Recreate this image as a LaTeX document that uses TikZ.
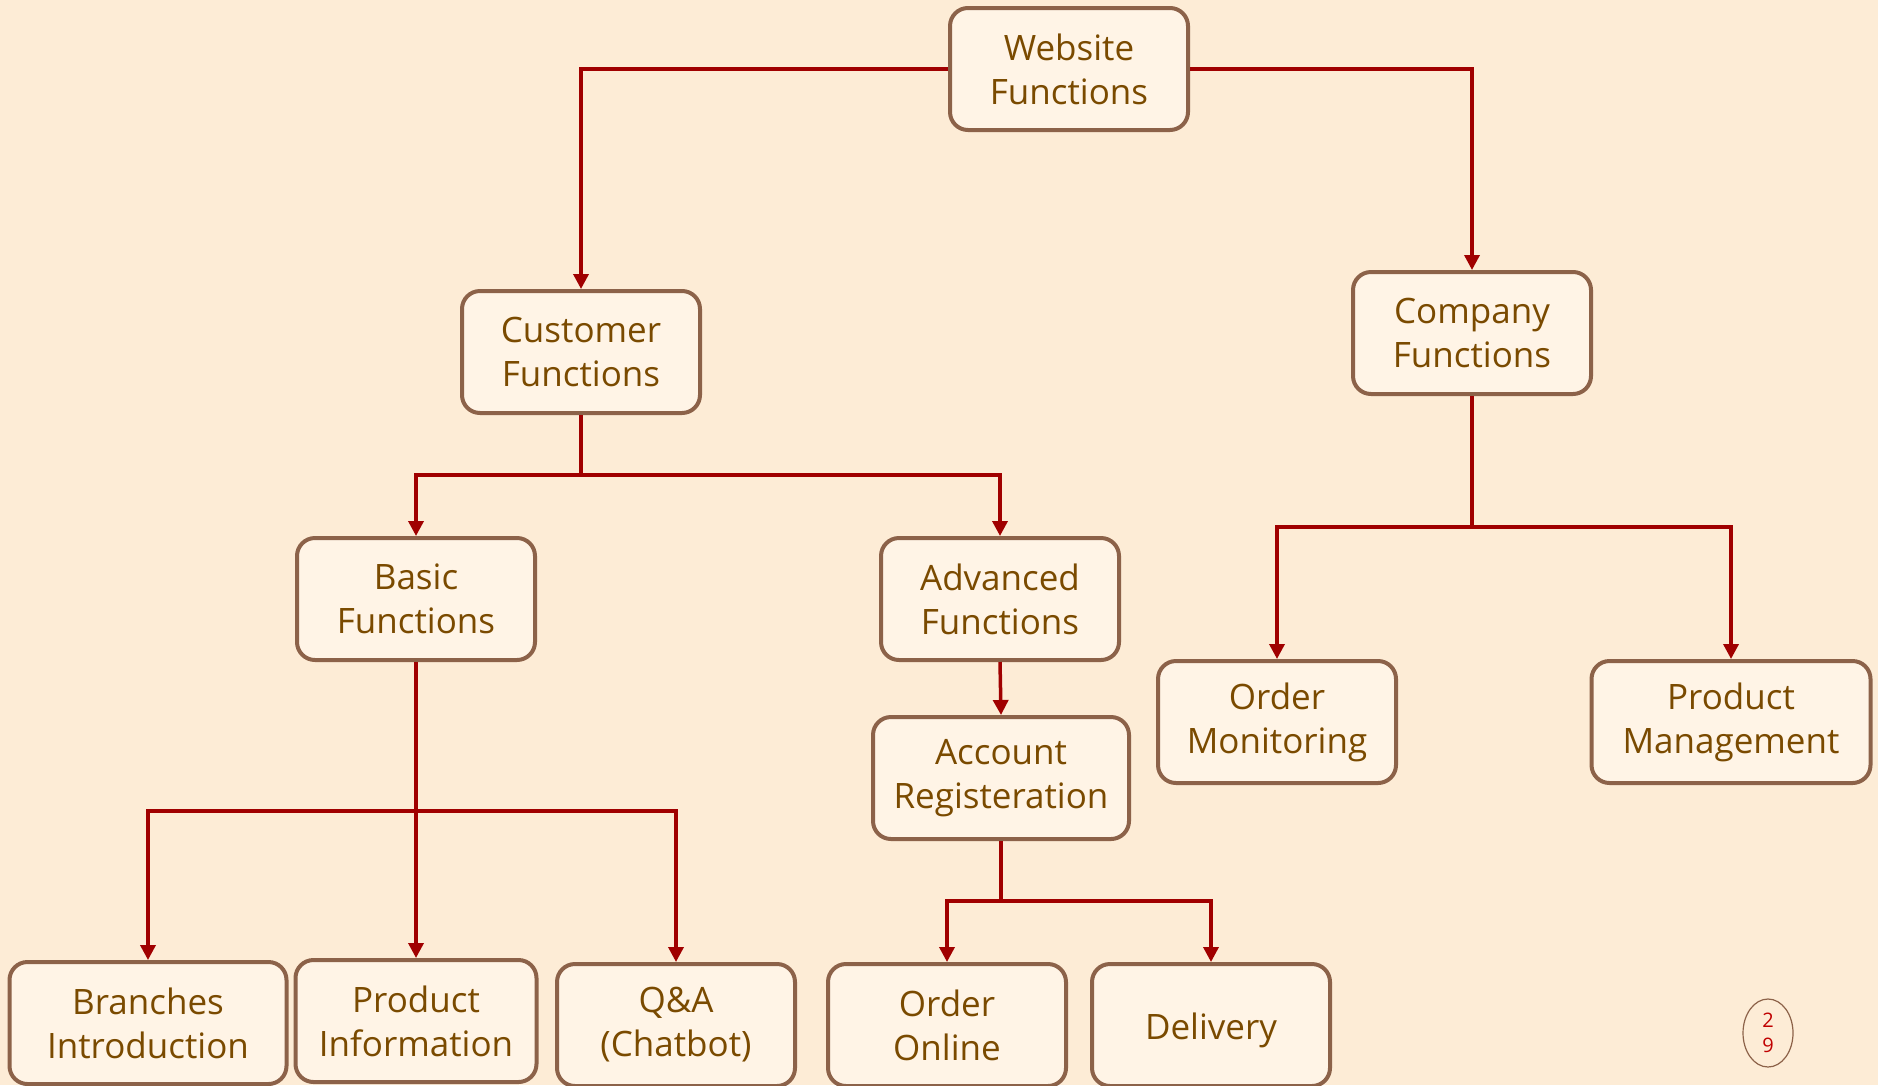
\documentclass[tikz,border=0pt]{standalone}
\usepackage{fontspec}
\setmainfont{Open Sans}
\usetikzlibrary{arrows.meta,shapes.geometric}
\definecolor{bg}{HTML}{FDECD6}
\definecolor{boxfill}{HTML}{FFF4E6}
\definecolor{boxline}{HTML}{8C6249}
\definecolor{txt}{HTML}{7A4A00}
\definecolor{wire}{HTML}{A00000}
\definecolor{pgred}{HTML}{C00000}
\begin{document}
\begin{tikzpicture}[x=1pt,y=-1pt,
  box/.style={draw=boxline, line width=4pt, fill=boxfill, rounded corners=18pt,
    minimum width=238pt, minimum height=122pt, align=center, text=txt,
    font=\fontsize{35}{44}\selectfont, inner sep=0pt},
  link/.style={draw=wire, line width=3.5pt, -{Triangle[width=15pt,length=15pt]}},
  plain/.style={draw=wire, line width=3.5pt}]
\fill[bg] (0,0) rectangle (1878,1085);
\useasboundingbox (0,0) rectangle (1878,1085);

\node[box] (web) at (1069,69) {Website\\Functions};
\node[box] (cust) at (581,352) {Customer\\Functions};
\node[box] (comp) at (1472,333) {Company\\Functions};
\node[box] (basic) at (416,599) {Basic\\Functions};
\node[box] (adv) at (1000,599) {Advanced\\Functions};
\node[box, minimum width=256pt] (acct) at (1001,778) {Account\\Registeration};
\node[box] (omon) at (1277,722) {Order\\Monitoring};
\node[box, minimum width=279pt] (pman) at (1731,722) {Product\\Management};
\node[box, minimum width=277pt] (branch) at (148,1023) {Branches\\Introduction};
\node[box, minimum width=241pt] (pinfo) at (416,1021) {Product\\Information};
\node[box] (qa) at (676,1025) {Q\&A\\(Chatbot)};
\node[box] (oonl) at (947,1025) {Order\\Online};
\node[box] (deliv) at (1211,1025) {\raisebox{-5pt}[\height][\depth]{Delivery}};

\node[draw=boxline, line width=1.2pt, ellipse, minimum width=50pt, minimum height=68pt,
  inner sep=0pt, text=pgred, align=center, font=\fontsize{20}{25}\selectfont] (pg) at (1768,1033) {2\\9};

\coordinate (c1) at (581,475);
\coordinate (k1) at (1472,527);
\coordinate (b1) at (416,811);
\coordinate (a1) at (1001,901);

\draw[link] (web.west) -| (cust.north);
\draw[link] (web.east) -| (comp.north);

\draw[plain] (cust.south) -- (c1);
\draw[link] (c1) -| (basic.north);
\draw[link] (c1) -| (adv.north);

\draw[plain] (comp.south) -- (k1);
\draw[link] (k1) -| (omon.north);
\draw[link] (k1) -| (pman.north);

\draw[link] (basic.south) -- (pinfo.north);
\draw[link] (b1) -| (branch.north);
\draw[link] (b1) -| (qa.north);

\draw[link] (adv.south) -- (acct.north);

\draw[plain] (acct.south) -- (a1);
\draw[link] (a1) -| (oonl.north);
\draw[link] (a1) -| (deliv.north);
\end{tikzpicture}
\end{document}
